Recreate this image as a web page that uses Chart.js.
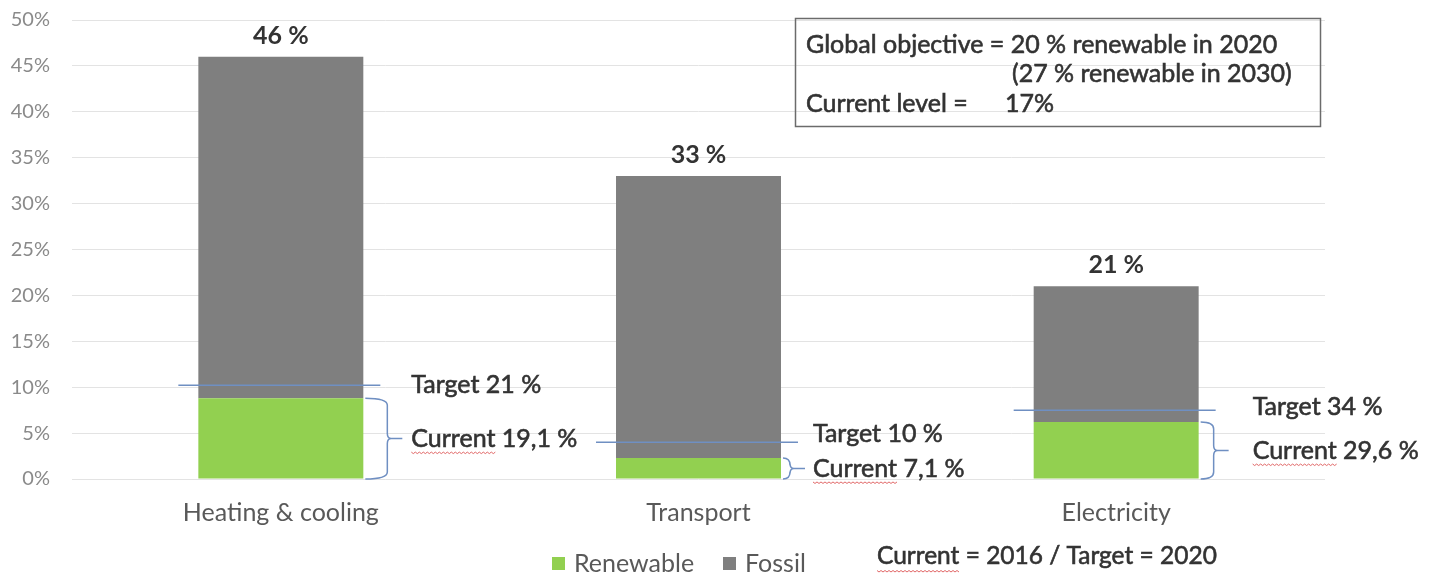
<!DOCTYPE html>
<html lang="en">
<head>
  <meta charset="UTF-8">
  <title>Renewable share by sector</title>
  <script src="https://cdn.jsdelivr.net/npm/chart.js@4.4.1/dist/chart.umd.min.js"></script>
  <style>
    html, body { margin: 0; padding: 0; background: #fff; }
    #wrap { width: 1435px; height: 577px; }
  </style>
</head>
<body>
  <div id="wrap"><canvas id="chart" width="1435" height="577"></canvas></div>

  <script>
    // data
    var categories = ["Heating & cooling", "Transport", "Electricity"];
    var renewable = [8.8, 2.3, 6.2];
    var fossil = [37.2, 30.7, 14.8];
    var totalLabels = ["46 %", "33 %", "21 %"];
    var targetLevels = [10.2, 4.0, 7.5];
    var targetLabels = ["Target 21 %", "Target 10 %", "Target 34 %"];
    var currentLabels = ["Current 19,1 %", "Current 7,1 %", "Current 29,6 %"];
    var boxLines = ["Global objective = 20 % renewable in 2020", "(27 % renewable in 2030)", "Current level =", "17%"];
    var noteText = "Current = 2016 / Target = 2020";

    var FONT = "Lato, 'Noto Sans', sans-serif";
    var GREEN = "#92d050";
    var GREY = "#7f7f7f";
    var BLUE = "#6f8fc2";
    var TEXT = "#333333";

    // per-category placement of the bracket and its labels (offsets from bar right edge)
    var NOTE_LAYOUT = [
      { bracket: 24, label: 48, targetDy: 0 },
      { bracket: 9, label: 32, targetDy: 8 },
      { bracket: 15, label: 54, targetDy: 3 }
    ];

    /* text a bit heavier than the regular face, like the blurred original */
    function heavyText(ctx, s, x, y) {
      ctx.fillText(s, x, y);
      ctx.save();
      ctx.strokeStyle = ctx.fillStyle;
      ctx.lineWidth = 0.6;
      ctx.strokeText(s, x, y);
      ctx.restore();
    }

    /* red spell-check squiggle under a word */
    function squiggle(ctx, x, y, w) {
      ctx.save();
      ctx.strokeStyle = "#e06666";
      ctx.lineWidth = 1;
      ctx.beginPath();
      for (var i = 0; i <= w; i += 2) {
        var yy = y + ((i / 2) % 2 ? 1 : -0.5);
        if (i == 0) ctx.moveTo(x + i, yy); else ctx.lineTo(x + i, yy);
      }
      ctx.stroke();
      ctx.restore();
    }

    /* right curly bracket from yTop to yBottom */
    function bracket(ctx, x0, xv, yTop, yBottom, tick) {
      var mid = (yTop + yBottom) / 2;
      ctx.beginPath();
      ctx.moveTo(x0, yTop);
      ctx.quadraticCurveTo(xv, yTop, xv, yTop + 7);
      ctx.lineTo(xv, mid - 5);
      ctx.quadraticCurveTo(xv, mid, xv + 4, mid);
      ctx.quadraticCurveTo(xv, mid, xv, mid + 5);
      ctx.lineTo(xv, yBottom - 7);
      ctx.quadraticCurveTo(xv, yBottom, x0, yBottom);
      ctx.moveTo(xv + 4, mid);
      ctx.lineTo(xv + 4 + tick, mid);
      ctx.stroke();
    }

    var annotations = {
      id: "annotations",
      afterDatasetsDraw: function(chart) {
        var ctx = chart.ctx;
        var y = chart.scales.y;
        var greenBars = chart.getDatasetMeta(0).data;
        var greyBars = chart.getDatasetMeta(1).data;
        ctx.save();
        ctx.textBaseline = "middle";

        for (var i = 0; i < categories.length; i++) {
          var bar = greenBars[i];
          var half = bar.width / 2;
          var left = bar.x - half, right = bar.x + half;
          var lay = NOTE_LAYOUT[i];

          // total above the bar
          ctx.fillStyle = TEXT;
          ctx.font = "bold 25px " + FONT;
          ctx.textAlign = "center";
          ctx.fillText(totalLabels[i], bar.x, greyBars[i].y - 21);

          // target line
          var ty = y.getPixelForValue(targetLevels[i]);
          ctx.strokeStyle = BLUE;
          ctx.lineWidth = 1.5;
          ctx.beginPath();
          ctx.moveTo(left - 20, ty);
          ctx.lineTo(right + 17, ty);
          ctx.stroke();

          // bracket round the renewable part
          var yTop = y.getPixelForValue(renewable[i]);
          var yBot = y.getPixelForValue(0);
          bracket(ctx, right + 2, right + lay.bracket, yTop, yBot, 11);

          // labels
          ctx.textAlign = "left";
          ctx.font = "25px " + FONT;
          ctx.fillStyle = TEXT;
          var lx = right + lay.label;
          heavyText(ctx, targetLabels[i], lx, ty - lay.targetDy);
          var cy = (yTop + yBot) / 2;
          heavyText(ctx, currentLabels[i], lx, cy);
          squiggle(ctx, lx, cy + 14, ctx.measureText("Current").width);
        }

        // objective box
        ctx.strokeStyle = "#6b6b6b";
        ctx.lineWidth = 1.5;
        ctx.strokeRect(795.5, 18.5, 525, 108);
        ctx.font = "25px " + FONT;
        ctx.fillStyle = TEXT;
        ctx.textAlign = "left";
        heavyText(ctx, boxLines[0], 806, 45);
        heavyText(ctx, boxLines[1], 1012, 74);
        heavyText(ctx, boxLines[2], 806, 104);
        heavyText(ctx, boxLines[3], 1005, 104);

        // legend
        var ds = chart.data.datasets;
        var legendX = [552, 723];
        ctx.font = "25px " + FONT;
        for (var k = 0; k < ds.length; k++) {
          ctx.fillStyle = ds[k].backgroundColor;
          ctx.fillRect(legendX[k], 557, 13, 13);
          ctx.fillStyle = "#595959";
          ctx.fillText(ds[k].label, legendX[k] + 22, 564);
        }

        // note
        ctx.font = "24.5px " + FONT;
        ctx.fillStyle = TEXT;
        heavyText(ctx, noteText, 877, 556);
        squiggle(ctx, 877, 571, ctx.measureText("Current").width);

        ctx.restore();
      }
    };

    new Chart(document.getElementById("chart"), {
      type: "bar",
      data: {
        labels: categories,
        datasets: [
          { label: "Renewable", data: renewable, backgroundColor: GREEN },
          { label: "Fossil", data: fossil, backgroundColor: GREY }
        ]
      },
      options: {
        responsive: false,
        animation: false,
        devicePixelRatio: 1,
        categoryPercentage: 1,
        barPercentage: 0.395,
        layout: { padding: { top: 20, right: 110, bottom: 0, left: 0 } },
        plugins: { legend: { display: false }, tooltip: { enabled: false } },
        scales: {
          x: {
            stacked: true,
            grid: { display: false },
            border: { display: false },
            ticks: { color: "#595959", font: { family: FONT, size: 25 }, padding: 11 },
            afterFit: function(s) { s.height = 98; }
          },
          y: {
            stacked: true,
            min: 0,
            max: 50,
            ticks: {
              stepSize: 5,
              color: "#8a8a8a",
              font: { family: FONT, size: 20 },
              padding: 22,
              callback: function(v) { return v + "%"; }
            },
            grid: { color: "#e3e3e3", drawTicks: false },
            border: { display: false },
            afterFit: function(s) {
              s.width = 72;
              s.paddingTop = 0;
              s.paddingBottom = 0;
            }
          }
        }
      },
      plugins: [annotations]
    });
  </script>
</body>
</html>
